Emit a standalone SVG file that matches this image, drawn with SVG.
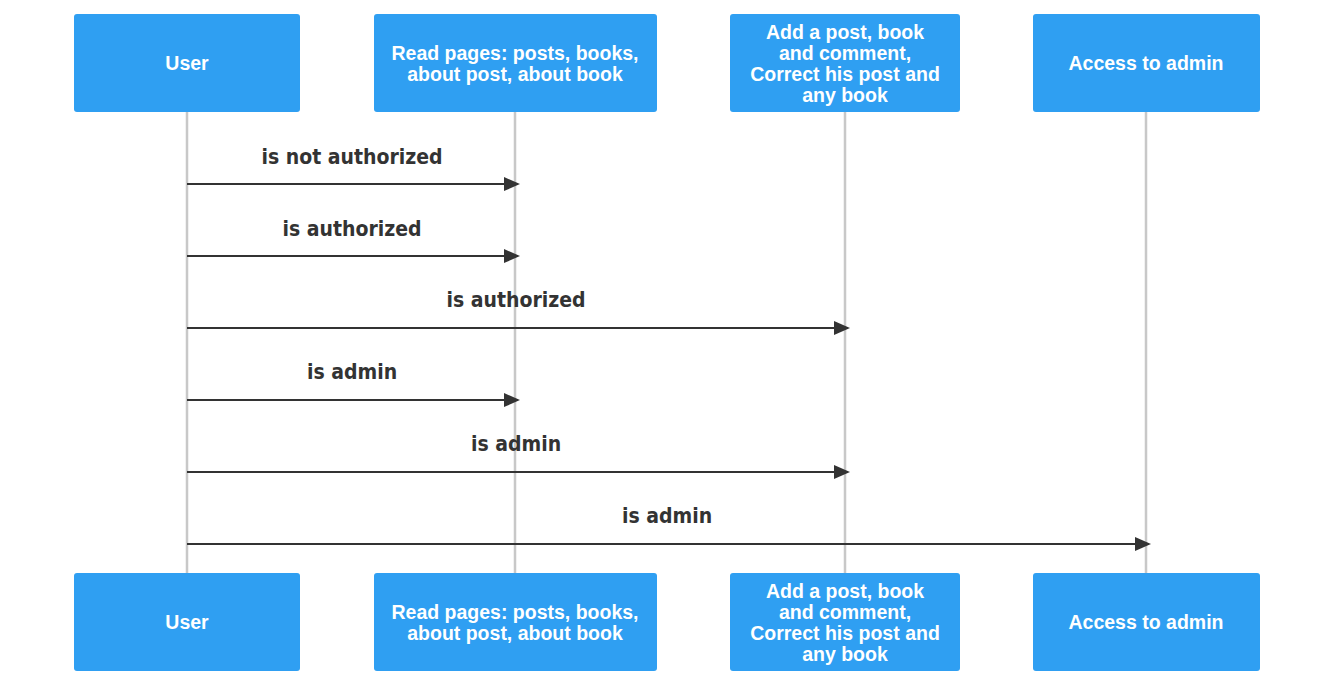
<svg xmlns="http://www.w3.org/2000/svg" width="1334" height="687" viewBox="0 0 1334 687">
<defs>
<style>
.box{fill:#2f9ff2;stroke:none}
.bt{font-family:"Liberation Sans",Arial,sans-serif;font-weight:bold;font-size:19.5px;fill:#fff;text-anchor:middle}
.life{stroke:#c8c8c8;stroke-width:2.5}
.msg{stroke:#333;stroke-width:2;fill:none;marker-end:url(#ah)}
.ml{font-family:"DejaVu Sans Condensed","DejaVu Sans",sans-serif;font-weight:bold;font-size:21px;fill:#333;text-anchor:middle}
</style>
<marker id="ah" markerWidth="16" markerHeight="16" refX="14" refY="7" orient="auto" markerUnits="userSpaceOnUse">
<path d="M0,0 L16,7 L0,14 Z" fill="#333"/>
</marker>
</defs>
<rect width="1334" height="687" fill="#fff"/>
<g id="lifelines">
<line class="life" x1="187" y1="112" x2="187" y2="573"/>
<line class="life" x1="515" y1="112" x2="515" y2="573"/>
<line class="life" x1="845" y1="112" x2="845" y2="573"/>
<line class="life" x1="1146" y1="112" x2="1146" y2="573"/>
</g>
<g id="user-top"><rect class="box" x="74" y="14" width="226" height="98" rx="3"/><text class="bt" x="187" y="70">User</text></g>
<g id="read-top"><rect class="box" x="374" y="14" width="283" height="98" rx="3"/><text class="bt" x="515" y="60">Read pages: posts, books,</text><text class="bt" x="515" y="81">about post, about book</text></g>
<g id="add-top"><rect class="box" x="730" y="14" width="230" height="98" rx="3"/><text class="bt" x="845" y="39">Add a post, book</text><text class="bt" x="845" y="60">and comment,</text><text class="bt" x="845" y="81">Correct his post and</text><text class="bt" x="845" y="102">any book</text></g>
<g id="admin-top"><rect class="box" x="1033" y="14" width="227" height="98" rx="3"/><text class="bt" x="1146" y="70">Access to admin</text></g>
<g id="user-bottom"><rect class="box" x="74" y="573" width="226" height="98" rx="3"/><text class="bt" x="187" y="629">User</text></g>
<g id="read-bottom"><rect class="box" x="374" y="573" width="283" height="98" rx="3"/><text class="bt" x="515" y="619">Read pages: posts, books,</text><text class="bt" x="515" y="640">about post, about book</text></g>
<g id="add-bottom"><rect class="box" x="730" y="573" width="230" height="98" rx="3"/><text class="bt" x="845" y="598">Add a post, book</text><text class="bt" x="845" y="619">and comment,</text><text class="bt" x="845" y="640">Correct his post and</text><text class="bt" x="845" y="661">any book</text></g>
<g id="admin-bottom"><rect class="box" x="1033" y="573" width="227" height="98" rx="3"/><text class="bt" x="1146" y="629">Access to admin</text></g>
<g id="connectors">
<line class="msg" x1="187" y1="184" x2="518" y2="184"/>
<text class="ml" x="352" y="164">is not authorized</text>
<line class="msg" x1="187" y1="256" x2="518" y2="256"/>
<text class="ml" x="352" y="236">is authorized</text>
<line class="msg" x1="187" y1="328" x2="848" y2="328"/>
<text class="ml" x="516" y="307">is authorized</text>
<line class="msg" x1="187" y1="400" x2="518" y2="400"/>
<text class="ml" x="352" y="379">is admin</text>
<line class="msg" x1="187" y1="472" x2="848" y2="472"/>
<text class="ml" x="516" y="451">is admin</text>
<line class="msg" x1="187" y1="544" x2="1149" y2="544"/>
<text class="ml" x="667" y="523">is admin</text>
</g>
</svg>
